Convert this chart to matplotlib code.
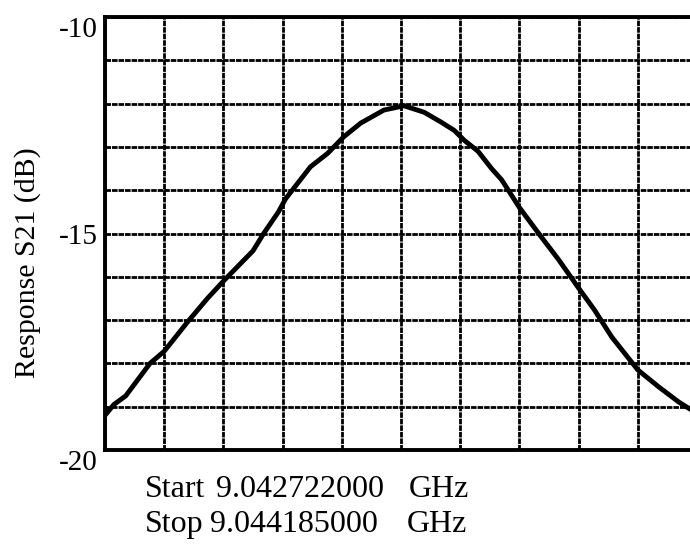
import numpy as np
import matplotlib
matplotlib.use("Agg")
import matplotlib.pyplot as plt

# ---- data ----
start_ghz = 9.042722
stop_ghz = 9.044185
start_label = "9.042722000"
stop_label = "9.044185000"

freq_ghz = [9.0427220, 9.0427439, 9.0427732, 9.0428332, 9.0428683, 9.0429254,
            9.0429751, 9.0430146, 9.0430878, 9.0431141, 9.0431507, 9.0431682,
            9.0432297, 9.0432721, 9.0433116, 9.0433540, 9.0434111, 9.0434608,
            9.0435106, 9.0435530, 9.0435852, 9.0436100, 9.0436437, 9.0436773,
            9.0437022, 9.0437461, 9.0438002, 9.0438427, 9.0438924, 9.0439319,
            9.0439743, 9.0440387, 9.0440914, 9.0441411, 9.0441704]
s21_db = [-19.20, -18.95, -18.75, -18.00, -17.72, -17.05,
          -16.50, -16.10, -15.40, -15.00, -14.50, -14.20,
          -13.46, -13.15, -12.77, -12.45, -12.15, -12.05,
          -12.20, -12.43, -12.62, -12.85, -13.10, -13.50,
          -13.76, -14.40, -15.08, -15.60, -16.26, -16.77,
          -17.39, -18.15, -18.55, -18.90, -19.07]

y_ticks = [-10, -11, -12, -13, -14, -15, -16, -17, -18, -19, -20]
y_tick_labels = ["-10", "", "", "", "", "-15", "", "", "", "", "-20"]
n_xdiv = 10
y_label = "Response S21 (dB)"

SERIF = ["Liberation Serif", "DejaVu Serif"]

W, H = 690, 546
fig = plt.figure(figsize=(W / 100, H / 100), dpi=100)
L, R, T, B = 105, 697, 17, 450
ax = fig.add_axes([L / W, 1 - B / H, (R - L) / W, (B - T) / H])

ax.plot(freq_ghz, s21_db, color="black", lw=3.5,
        solid_joinstyle="round", solid_capstyle="round", zorder=3)

ax.set_xlim(start_ghz, stop_ghz)
ax.set_ylim(-20, -10)
ax.set_xticks(np.linspace(start_ghz, stop_ghz, n_xdiv + 1))
ax.set_xticklabels([])
ax.set_yticks(y_ticks)
ax.set_yticklabels(y_tick_labels, fontfamily=SERIF, fontsize=21)
ax.tick_params(length=0, pad=5)
for lbl, v in zip(ax.get_yticklabels(), y_ticks):
    if v in (-10, -20):
        lbl.set_va("top")

ax.grid(True, color="black", lw=2.0, ls=(0, (2.0, 0.35)))
ax.set_axisbelow(True)
for side in ("left", "top", "bottom"):
    ax.spines[side].set_linewidth(2.8)
    ax.spines[side].set_zorder(4)
ax.spines["right"].set_visible(False)

ax.set_ylabel(y_label, fontfamily=SERIF, fontsize=21.5)
ax.yaxis.set_label_coords((41 - L) / (R - L), 1 - (263 - T) / (B - T))

def ftext(x, y, s):
    fig.text(x / W, 1 - y / H, s, fontfamily=SERIF, fontsize=23,
             ha="left", va="baseline")

ftext(145, 497, "Start")
ftext(216, 497, start_label)
ftext(409, 497, "GHz")
ftext(145, 532, "Stop")
ftext(210, 532, stop_label)
ftext(407, 532, "GHz")

fig.savefig("out.png", dpi=100)
